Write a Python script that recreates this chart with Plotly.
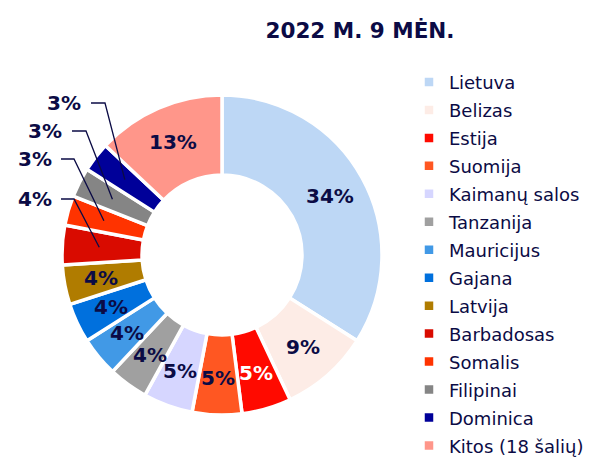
import math
import plotly.graph_objects as go

# ---- data ----
countries = ["Lietuva", "Belizas", "Estija", "Suomija", "Kaimanų salos", "Tanzanija",
             "Mauricijus", "Gajana", "Latvija", "Barbadosas", "Somalis", "Filipinai",
             "Dominica", "Kitos (18 šalių)"]
shares = [34, 9, 5, 5, 5, 4, 4, 4, 4, 4, 3, 3, 3, 13]
colors = ["#BDD7F5", "#FDECE6", "#FF0A00", "#FF5722", "#D6D6FF", "#A0A0A0",
          "#4199E6", "#0070DD", "#B07C00", "#D90B00", "#FF3300", "#858585",
          "#000099", "#FF968A"]
outside = ["Barbadosas", "Somalis", "Filipinai", "Dominica"]
title = "2022 M. 9 MĖN."

# ---- layout constants (pixel positions measured on the page; page body has 8px margin) ----
W, H = 602, 457
OFF = 8
NAVY = "#0B0B45"
FONT = "DejaVu Sans"
cx, cy, R = 222 - OFF, 255 - OFF, 160
hole = 0.5
LABEL_R = 123  # radius (px) at which slice labels sit
# label text centre (x, y) and horizontal leader segment x0, x1 — page pixels
label_pos = {"Dominica": (64, 103, 91, 105), "Filipinai": (45, 131, 72, 86),
             "Somalis": (35, 159, 61, 74), "Barbadosas": (35, 199, 61, 74)}

legend_labels = [f"<span style='font-size:18px'>{c}</span>" for c in countries]

fig = go.Figure(go.Pie(
    labels=legend_labels, values=shares, textinfo="none",
    marker=dict(colors=colors, line=dict(color="white", width=3.5)),
    hole=hole, sort=False, direction="clockwise", rotation=0,
    domain=dict(x=[(cx - R) / W, (cx + R) / W], y=[1 - (cy + R) / H, 1 - (cy - R) / H]),
    customdata=countries, hovertemplate="%{customdata}: %{percent}<extra></extra>",
))

def px(x, y):
    """page pixel -> paper coords"""
    return (x - OFF) / W, 1 - (y - OFF) / H

total = sum(shares)
cum = 0
shapes, annotations = [], []
for c, v in zip(countries, shares):
    mid = (cum + v / 2) / total * 2 * math.pi
    cum += v
    lx = cx + OFF + LABEL_R * math.sin(mid)
    ly = cy + OFF - LABEL_R * math.cos(mid)
    color = "white" if c == "Estija" else NAVY
    if c in outside:
        tx, ty, hx0, hx1 = label_pos[c]
        ex, ey = lx, ly
        p0, p1, p2 = px(hx0, ty), px(hx1, ty), px(ex, ey)
        shapes.append(dict(type="path", xref="paper", yref="paper",
                           path=f"M {p0[0]} {p0[1]} L {p1[0]} {p1[1]} L {p2[0]} {p2[1]}",
                           line=dict(color=NAVY, width=1.3)))
        lx, ly = tx, ty
    ax, ay = px(lx, ly)
    annotations.append(dict(x=ax, y=ay, xref="paper", yref="paper", showarrow=False,
                            text=f"<b>{v}%</b>", xanchor="center", yanchor="middle",
                            font=dict(family=FONT, size=20, color=color)))

fig.update_layout(
    width=W, height=H, margin=dict(l=0, r=0, t=0, b=0),
    paper_bgcolor="white", plot_bgcolor="white",
    title=dict(text=f"<b>{title}</b>", x=352 / W, xanchor="center", y=1 - 22 / H,
               yanchor="middle", font=dict(family=FONT, size=21.5, color=NAVY)),
    legend=dict(x=401 / W, y=0, xanchor="left", yanchor="bottom",
                font=dict(family=FONT, size=19.2, color=NAVY), traceorder="normal",
                itemclick=False),
    shapes=shapes, annotations=annotations,
)
fig.write_html("out.html")
